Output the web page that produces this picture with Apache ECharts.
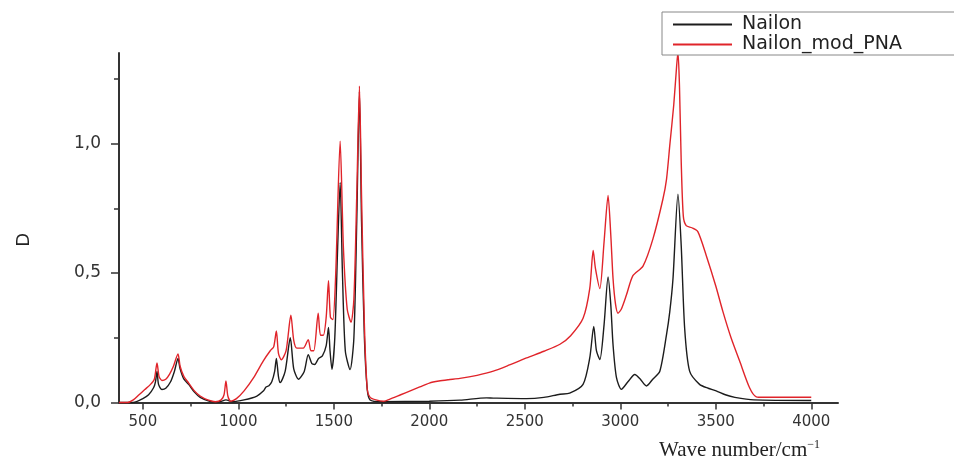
<!DOCTYPE html>
<html>
<head>
<meta charset="utf-8">
<script src="https://cdn.jsdelivr.net/npm/echarts@6/dist/echarts.min.js"></script>
<style>
html,body{margin:0;padding:0;background:#fff;}
#chart{width:954px;height:461px;}
</style>
</head>
<body>
<div id="chart"></div>
<script>
const seriesNames = ['Nailon', 'Nailon_mod_PNA'];

const nailonX = [375,450,500,530,556,566,574,582,600,620,645,665,684,695,715,740,770,800,850,900,935,970,1030,1097,1132,1145,1160,1175,1190,1199,1210,1219,1245,1272,1290,1315,1345,1366,1385,1400,1420,1440,1460,1472,1480,1490,1505,1520,1533,1545,1560,1585,1605,1620,1634,1645,1660,1675,1690,1750,2000,2161,2300,2335,2509,2600,2684,2735,2805,2840,2861,2875,2893,2915,2936,2950,2962,2980,3006,3040,3076,3105,3137,3170,3207,3242,3259,3276,3302,3319,3337,3363,3415,3460,3502,3550,3600,3700,4000];
const nailonY = [0.0,0.0,0.015,0.03,0.057,0.08,0.12,0.07,0.05,0.055,0.08,0.12,0.17,0.13,0.09,0.07,0.04,0.02,0.005,0.003,0.01,0.003,0.01,0.025,0.045,0.06,0.065,0.08,0.12,0.17,0.1,0.077,0.12,0.25,0.13,0.09,0.12,0.185,0.15,0.147,0.17,0.18,0.22,0.29,0.2,0.128,0.25,0.6,0.85,0.5,0.2,0.127,0.25,0.7,1.2,0.7,0.25,0.05,0.01,0.003,0.005,0.009,0.018,0.017,0.015,0.02,0.032,0.036,0.07,0.172,0.294,0.2,0.166,0.3,0.485,0.38,0.223,0.096,0.051,0.08,0.108,0.09,0.064,0.09,0.121,0.262,0.35,0.479,0.805,0.606,0.287,0.121,0.07,0.055,0.045,0.03,0.02,0.01,0.008];

const pnaX = [375,420,450,480,510,540,560,574,585,600,620,640,660,684,695,715,740,770,800,840,880,910,925,935,945,960,990,1030,1080,1130,1167,1185,1199,1210,1225,1250,1275,1290,1306,1340,1366,1380,1395,1418,1430,1445,1460,1472,1482,1495,1510,1533,1550,1570,1590,1605,1620,1634,1645,1660,1675,1690,1720,1760,1800,1850,1900,1950,2000,2050,2100,2160,2250,2335,2420,2509,2600,2684,2740,2805,2840,2858,2870,2893,2915,2936,2950,2962,2975,2988,3005,3032,3066,3119,3171,3223,3242,3260,3280,3295,3302,3310,3319,3330,3345,3375,3406,3450,3500,3537,3580,3625,3677,3712,3750,4000];
const pnaY = [0.0,0.0,0.01,0.03,0.05,0.07,0.09,0.153,0.1,0.085,0.09,0.11,0.14,0.188,0.14,0.1,0.075,0.045,0.025,0.01,0.003,0.01,0.03,0.083,0.025,0.005,0.015,0.045,0.096,0.16,0.2,0.215,0.276,0.19,0.165,0.2,0.337,0.24,0.21,0.21,0.243,0.2,0.2,0.345,0.26,0.26,0.33,0.47,0.33,0.32,0.5,1.009,0.6,0.36,0.31,0.4,0.8,1.222,0.8,0.3,0.05,0.02,0.01,0.005,0.015,0.03,0.045,0.06,0.075,0.083,0.088,0.093,0.105,0.121,0.145,0.172,0.198,0.225,0.258,0.325,0.44,0.587,0.517,0.44,0.62,0.80,0.65,0.479,0.38,0.345,0.36,0.415,0.49,0.527,0.632,0.785,0.862,1.0,1.15,1.3,1.355,1.22,0.93,0.72,0.683,0.675,0.66,0.568,0.45,0.352,0.25,0.16,0.057,0.022,0.02,0.02];

const xMajorTicks = [500,1000,1500,2000,2500,3000,3500,4000];
const xMinorTicks = [750,1250,1750,2250,2750,3250,3750];
const yMajorTicks = [0,0.5,1.0];
const yMinorTicks = [0.25,0.75,1.25];

const toPairs = (xs, ys) => xs.map((x, i) => [x, ys[i]]);

const axisColor = '#333';
const labelFont = 'DejaVu Sans';

const chart = echarts.init(document.getElementById('chart'));
chart.setOption({
  backgroundColor: '#fff',
  animation: false,
  grid: { left: 119, right: 116, top: 53, bottom: 55, containLabel: false },
  legend: {
    orient: 'vertical',
    left: 662, top: 12,
    padding: [3, 60, 1, 11],
    itemGap: 1,
    itemWidth: 59, itemHeight: 2,
    icon: 'rect',
    borderColor: '#888', borderWidth: 1,
    backgroundColor: '#fff',
    textStyle: { fontFamily: labelFont, fontSize: 19, color: '#222', padding: [0,0,0,5] },
    data: seriesNames
  },
  xAxis: [
    {
      type: 'value', min: 375, max: 4140, position: 'bottom',
      name: 'Wave number/cm{sup|−1}',
      nameLocation: 'end', nameGap: -18,
      nameTextStyle: {
        fontFamily: 'Liberation Serif', fontSize: 21, color: '#222',
        align: 'right', verticalAlign: 'top', padding: [36, 0, 0, 0],
        rich: { sup: { fontFamily: 'Liberation Serif', fontSize: 12, color: '#222', padding: [0, 0, 12, 0] } }
      },
      splitLine: { show: false },
      axisLine: { show: true, lineStyle: { color: axisColor, width: 2 } },
      axisTick: { show: true, length: 7, inside: false, customValues: xMajorTicks, lineStyle: { color: axisColor, width: 1.5 } },
      axisLabel: { customValues: xMajorTicks, fontFamily: labelFont, fontSize: 15, color: '#333', margin: 12, formatter: v => String(v) }
    },
    {
      type: 'value', min: 375, max: 4140, position: 'bottom',
      splitLine: { show: false },
      axisLine: { show: false },
      axisTick: { show: true, length: 4, customValues: xMinorTicks, lineStyle: { color: axisColor, width: 1.5 } },
      axisLabel: { show: false }
    }
  ],
  yAxis: [
    {
      type: 'value', min: 0, max: 1.35, position: 'left',
      name: 'D', nameLocation: 'middle', nameRotate: 90, nameGap: 86,
      nameTextStyle: { fontFamily: labelFont, fontSize: 18, color: '#222', padding: [0, 24, 0, 0] },
      splitLine: { show: false },
      axisLine: { show: true, lineStyle: { color: axisColor, width: 2 } },
      axisTick: { show: true, length: 8, customValues: yMajorTicks, lineStyle: { color: axisColor, width: 1.5 } },
      axisLabel: {
        customValues: yMajorTicks, fontFamily: labelFont, fontSize: 17, color: '#333', margin: 18,
        formatter: v => v.toFixed(1).replace('.', ',')
      }
    },
    {
      type: 'value', min: 0, max: 1.35, position: 'left',
      splitLine: { show: false },
      axisLine: { show: false },
      axisTick: { show: true, length: 5, customValues: yMinorTicks, lineStyle: { color: axisColor, width: 1.5 } },
      axisLabel: { show: false }
    }
  ],
  series: [
    {
      name: seriesNames[0], type: 'line', xAxisIndex: 0, yAxisIndex: 0,
      data: toPairs(nailonX, nailonY),
      showSymbol: false, smooth: 0.25, clip: true,
      lineStyle: { color: '#1c1c1c', width: 1.4 }, itemStyle: { color: '#1c1c1c' }
    },
    {
      name: seriesNames[1], type: 'line', xAxisIndex: 0, yAxisIndex: 0,
      data: toPairs(pnaX, pnaY),
      showSymbol: false, smooth: 0.25, clip: false,
      lineStyle: { color: '#e0242a', width: 1.4 }, itemStyle: { color: '#e0242a' }
    }
  ]
});
</script>
</body>
</html>
